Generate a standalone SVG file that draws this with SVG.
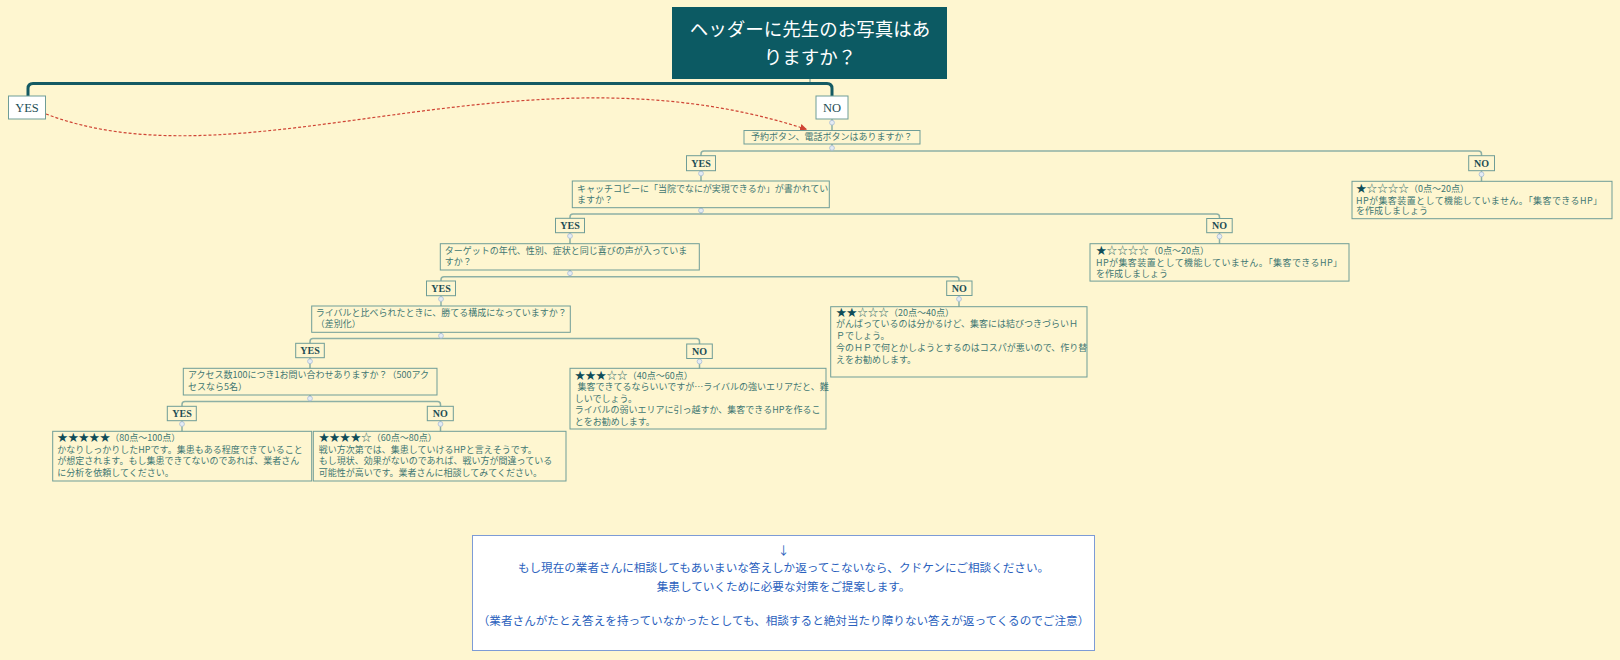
<svg xmlns="http://www.w3.org/2000/svg" width="1620" height="660" viewBox="0 0 1620 660">
<defs>
<style>
.bg{fill:#fef6d0}
.root{fill:#0c5a63}
.rt{font-family:"Noto Sans CJK JP","Noto Sans",sans-serif;font-size:18.5px;fill:#ffffff;text-anchor:middle}
.yn0{fill:#ffffff;stroke:#6f9d97;stroke-width:1}
.yn{fill:none;stroke:#6f9d97;stroke-width:1}
.ynt0{font-family:"Liberation Serif",serif;font-size:12.5px;fill:#1d4d55;text-anchor:middle}
.ynt{font-family:"Liberation Serif",serif;font-size:10px;font-weight:bold;fill:#1d4d55;text-anchor:middle}
.box{fill:none;stroke:#6f9d97;stroke-width:1}
.t{font-family:"Noto Sans CJK JP","Noto Sans",sans-serif;font-size:9px;fill:#3f7672}
.st{fill:#0f4c58;font-size:10.6px}
.sh{font-size:10.6px}
.ln{fill:none;stroke:#8db0a5;stroke-width:1.5}
.stub{fill:none;stroke:#5f8f8a;stroke-width:1}
.thick{fill:none;stroke:#145a63;stroke-width:3}
.dot{fill:#e4ebf3;stroke:#a9bdd5;stroke-width:0.8}
.dash{fill:none;stroke:#cf4434;stroke-width:1.2;stroke-dasharray:3 2}
.foot{fill:#ffffff;stroke:#7d9bd6;stroke-width:1}
.ft{font-family:"Noto Sans CJK JP","Noto Sans",sans-serif;font-size:11.6px;fill:#2a5fbd;text-anchor:middle}
</style>
<marker id="arr" markerWidth="8" markerHeight="8" refX="7" refY="4" orient="auto" markerUnits="userSpaceOnUse">
<path d="M0 0.5 L7 4 L0 7.5 Z" fill="#cf4434"/>
</marker>
</defs>
<rect class="bg" x="0" y="0" width="1620" height="660"/>

<g id="connectors">
<path class="stub" d="M810 79 V83.5"/>
<path class="thick" d="M28 96 V88.5 Q28 83.5 33 83.5 H827 Q832 83.5 832 88.5 V96"/>
<path class="ln" d="M832 119 V130.5"/>
<path class="ln" d="M832 144 V151"/>
<path class="ln" d="M701 155.7 V154 Q701 151 704 151 H1478.5 Q1481.5 151 1481.5 154 V155.7"/>
<path class="ln" d="M701 170.7 V181"/>
<path class="ln" d="M1481.5 170.7 V181.3"/>
<path class="ln" d="M701 207.7 V214"/>
<path class="ln" d="M570 218.3 V217 Q570 214 573 214 H1216.5 Q1219.5 214 1219.5 217 V218.5"/>
<path class="ln" d="M570 232.7 V243.7"/>
<path class="ln" d="M1219.5 232.7 V243.7"/>
<path class="ln" d="M570 270 V276.7"/>
<path class="ln" d="M441 281 V279.7 Q441 276.7 444 276.7 H956 Q959 276.7 959 279.7 V281"/>
<path class="ln" d="M441 295.7 V306"/>
<path class="ln" d="M959 295.5 V306.7"/>
<path class="ln" d="M441 332.3 V338.5"/>
<path class="ln" d="M310 343.3 V341.5 Q310 338.5 313 338.5 H696.5 Q699.5 338.5 699.5 341.5 V344"/>
<path class="ln" d="M310 357.7 V368.3"/>
<path class="ln" d="M699.5 358.5 V368.3"/>
<path class="ln" d="M310 395 V401.5"/>
<path class="ln" d="M182 406.3 V404.5 Q182 401.5 185 401.5 H437.5 Q440.5 401.5 440.5 404.5 V406.3"/>
<path class="ln" d="M182 420.7 V431.3"/>
<path class="ln" d="M440.5 420.7 V431.3"/>
<circle class="dot" cx="832" cy="122.7" r="2.4"/>
<circle class="dot" cx="832" cy="148" r="2.4"/>
<circle class="dot" cx="701" cy="173.5" r="2.4"/>
<circle class="dot" cx="1481.5" cy="174.3" r="2.4"/>
<circle class="dot" cx="701" cy="210.5" r="2.4"/>
<circle class="dot" cx="570" cy="236" r="2.4"/>
<circle class="dot" cx="1219.5" cy="236.5" r="2.4"/>
<circle class="dot" cx="570" cy="273.3" r="2.4"/>
<circle class="dot" cx="441" cy="299" r="2.4"/>
<circle class="dot" cx="959" cy="299" r="2.4"/>
<circle class="dot" cx="441" cy="335.8" r="2.4"/>
<circle class="dot" cx="310" cy="361.3" r="2.4"/>
<circle class="dot" cx="699.5" cy="361.5" r="2.4"/>
<circle class="dot" cx="310" cy="398.5" r="2.4"/>
<circle class="dot" cx="182" cy="424" r="2.4"/>
<circle class="dot" cx="440.5" cy="424" r="2.4"/>
<path class="dash" d="M46 114 C245 190 520 35 807 129.5" marker-end="url(#arr)"/>
</g>

<g id="root">
<rect class="root" x="672" y="7" width="275" height="72"/>
<text class="rt" x="810" y="36">ヘッダーに先生のお写真はあ</text>
<text class="rt" x="810" y="63.5">りますか？</text>
</g>

<g id="top-yes">
<rect class="yn0" x="8.5" y="96" width="37" height="23"/>
<text class="ynt0" x="27" y="112">YES</text>
</g>
<g id="top-no">
<rect class="yn0" x="816" y="96" width="32" height="23"/>
<text class="ynt0" x="832" y="112">NO</text>
</g>

<g id="q1">
<rect class="box" x="744" y="130.5" width="176" height="13.5"/>
<text class="t" x="751" y="140.3">予約ボタン、電話ボタンはありますか？</text>
</g>
<g id="q1-yes">
<rect class="yn" x="686.5" y="155.7" width="29" height="15"/>
<text class="ynt" x="701" y="167">YES</text>
</g>
<g id="q1-no">
<rect class="yn" x="1468.7" y="155.7" width="25.8" height="15"/>
<text class="ynt" x="1481.6" y="167">NO</text>
</g>
<g id="r1">
<rect class="box" x="1352" y="181.3" width="260" height="37.4"/>
<text class="t" x="1356" y="192"><tspan class="st">★</tspan><tspan class="sh">☆☆☆☆</tspan>（0点～20点）</text>
<text class="t" x="1356" y="203.5" textLength="246" lengthAdjust="spacing">HPが集客装置として機能していません。「集客できるHP」</text>
<text class="t" x="1356" y="214.2">を作成しましょう</text>
</g>

<g id="q2">
<rect class="box" x="572.3" y="181" width="257" height="26.7"/>
<text class="t" x="577" y="192.4">キャッチコピーに「当院でなにが実現できるか」が書かれてい</text>
<text class="t" x="577" y="202.8">ますか？</text>
</g>
<g id="q2-yes">
<rect class="yn" x="555.5" y="218.3" width="29" height="14.4"/>
<text class="ynt" x="570" y="229.3">YES</text>
</g>
<g id="q2-no">
<rect class="yn" x="1206.7" y="218.5" width="25.5" height="14.2"/>
<text class="ynt" x="1219.5" y="229.3">NO</text>
</g>
<g id="r2">
<rect class="box" x="1090" y="243.7" width="259" height="37.4"/>
<text class="t" x="1096" y="254.4"><tspan class="st">★</tspan><tspan class="sh">☆☆☆☆</tspan>（0点～20点）</text>
<text class="t" x="1096" y="265.9" textLength="246" lengthAdjust="spacing">HPが集客装置として機能していません。「集客できるHP」</text>
<text class="t" x="1096" y="276.6">を作成しましょう</text>
</g>

<g id="q3">
<rect class="box" x="440.3" y="243.7" width="259" height="26.3"/>
<text class="t" x="444.7" y="253.5">ターゲットの年代、性別、症状と同じ喜びの声が入っていま</text>
<text class="t" x="444.7" y="264.8">すか？</text>
</g>
<g id="q3-yes">
<rect class="yn" x="426.5" y="281" width="29" height="14.7"/>
<text class="ynt" x="441" y="292">YES</text>
</g>
<g id="q3-no">
<rect class="yn" x="946.7" y="281" width="25.3" height="14.5"/>
<text class="ynt" x="959.3" y="292">NO</text>
</g>
<g id="r3">
<rect class="box" x="830.7" y="306.7" width="256.3" height="70.3"/>
<text class="t" x="836" y="316"><tspan class="st">★★</tspan><tspan class="sh">☆☆☆</tspan>（20点～40点）</text>
<text class="t" x="836" y="327.4">がんばっているのは分かるけど、集客には結びつきづらいＨ</text>
<text class="t" x="836" y="339.1">Ｐでしょう。</text>
<text class="t" x="836" y="350.8">今のＨＰで何とかしようとするのはコスパが悪いので、作り替</text>
<text class="t" x="836" y="362.5">えをお勧めします。</text>
</g>

<g id="q4">
<rect class="box" x="311.7" y="306" width="258.6" height="26.3"/>
<text class="t" x="315.7" y="315.7">ライバルと比べられたときに、勝てる構成になっていますか？</text>
<text class="t" x="315.7" y="326.7">（差別化）</text>
</g>
<g id="q4-yes">
<rect class="yn" x="295.7" y="343.3" width="28.6" height="14.4"/>
<text class="ynt" x="310" y="354.3">YES</text>
</g>
<g id="q4-no">
<rect class="yn" x="686.7" y="344" width="25.6" height="14.5"/>
<text class="ynt" x="699.5" y="355">NO</text>
</g>
<g id="r4">
<rect class="box" x="570" y="368.3" width="256" height="60.7"/>
<text class="t" x="574.7" y="379.4"><tspan class="st">★★★</tspan><tspan class="sh">☆☆</tspan>（40点～60点）</text>
<text class="t" x="577.5" y="390.4">集客できてるならいいですが…ライバルの強いエリアだと、難</text>
<text class="t" x="574.7" y="401.8">しいでしょう。</text>
<text class="t" x="574.7" y="413.2">ライバルの弱いエリアに引っ越すか、集客できるHPを作るこ</text>
<text class="t" x="574.7" y="424.5">とをお勧めします。</text>
</g>

<g id="q5">
<rect class="box" x="183.3" y="368.3" width="253.7" height="26.7"/>
<text class="t" x="188" y="378.4">アクセス数100につき1お問い合わせありますか？（500アク</text>
<text class="t" x="188" y="390.1">セスなら5名）</text>
</g>
<g id="q5-yes">
<rect class="yn" x="167.3" y="406.3" width="29" height="14.4"/>
<text class="ynt" x="182" y="417.3">YES</text>
</g>
<g id="q5-no">
<rect class="yn" x="427.3" y="406.3" width="26" height="14.4"/>
<text class="ynt" x="440.3" y="417.3">NO</text>
</g>
<g id="r5">
<rect class="box" x="52.7" y="431.3" width="259" height="49.7"/>
<text class="t" x="57.3" y="441"><tspan class="st">★★★★★</tspan>（80点～100点）</text>
<text class="t" x="57.3" y="452.5">かなりしっかりしたHPです。集患もある程度できていること</text>
<text class="t" x="57.3" y="464.3">が想定されます。もし集患できてないのであれば、業者さん</text>
<text class="t" x="57.3" y="476.1">に分析を依頼してください。</text>
</g>
<g id="r6">
<rect class="box" x="313.3" y="431.3" width="252.7" height="49.7"/>
<text class="t" x="318.7" y="441"><tspan class="st">★★★★</tspan><tspan class="sh">☆</tspan>（60点～80点）</text>
<text class="t" x="318.7" y="452.5">戦い方次第では、集患していけるHPと言えそうです。</text>
<text class="t" x="318.7" y="464.3">もし現状、効果がないのであれば、戦い方が間違っている</text>
<text class="t" x="318.7" y="476.1">可能性が高いです。業者さんに相談してみてください。</text>
</g>

<g id="footer">
<rect class="foot" x="472.5" y="535.5" width="622" height="115"/>
<text class="ft" x="783.5" y="554.5">↓</text>
<text class="ft" x="783.5" y="571.5">もし現在の業者さんに相談してもあいまいな答えしか返ってこないなら、クドケンにご相談ください。</text>
<text class="ft" x="783.5" y="590.5">集患していくために必要な対策をご提案します。</text>
<text class="ft" x="783.5" y="625">（業者さんがたとえ答えを持っていなかったとしても、相談すると絶対当たり障りない答えが返ってくるのでご注意）</text>
</g>
</svg>
